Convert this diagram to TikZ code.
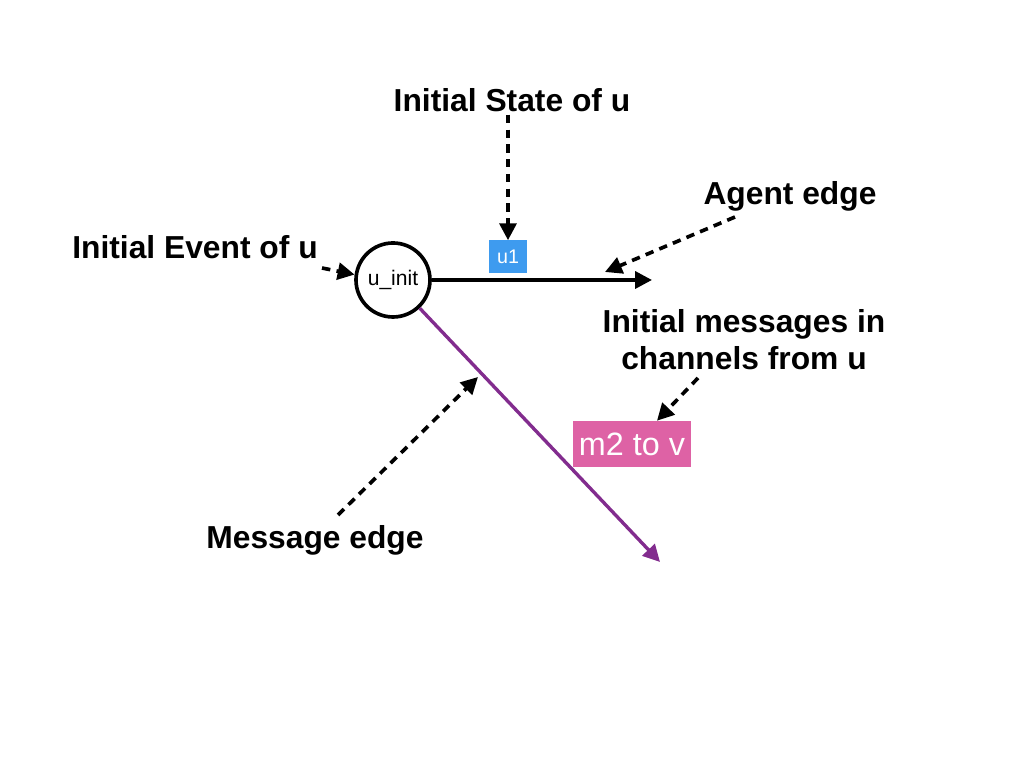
\documentclass[tikz,border=0pt]{standalone}
\usepackage{fontspec}
\setsansfont{Liberation Sans}
\usepackage{tikz}
\usetikzlibrary{positioning,arrows.meta}
\usepackage{xcolor}
\definecolor{stateblue}{RGB}{62,155,239}
\definecolor{msgpink}{RGB}{222,98,165}
\definecolor{edgepurple}{RGB}{130,44,142}
\tikzset{
	callout/.style={%
		font=\sffamily\bfseries\fontsize{22.6}{26.3}\selectfont,
		align=center, inner sep=2pt
	},
	pointer/.style={->,line width=2.6pt,dash pattern=on 6pt off 4.5pt},
	valuebox/.style={%
		fill=#1, text=white, inner sep=0pt,
		font=\sffamily
	},
	valuebox/.default=stateblue,
	>={Triangle[length=12pt,width=12pt]}
}
\begin{document}
\begin{tikzpicture}
		\useasboundingbox (0,0) rectangle (25.6,19.2);
		
		% Event node with its two edges
		\node (init) at (9.825,12.2) [draw,circle,line width=2.6pt,minimum size=1.85cm,inner sep=0pt,font=\sffamily\fontsize{15}{18}\selectfont] {u\_init};
		\coordinate (agentend) at (16.3,12.2);
		\coordinate (msgend) at (16.5,5.15);
		
		\draw[->,line width=2.6pt] (init)--(agentend);
		\draw[->,line width=2.4pt,edgepurple] (init)--(msgend);
		
		% State and message boxes
		\node[valuebox=stateblue,minimum width=0.95cm,minimum height=0.825cm,font=\sffamily\fontsize{14}{16}\selectfont] (u1) at (12.7,12.775) {u1};
		\node[valuebox=msgpink,minimum width=2.95cm,minimum height=1.15cm,font=\sffamily\fontsize{23}{26}\selectfont] (m2) at (15.8,8.1) {m2 to v};
		
		% Texts round the picture
		\node[callout] (state) at (12.8,16.7) {Initial State of u};
		\node[callout] (event) at (4.875,13.025) {Initial Event of u};
		\node[callout] (agent) at (19.75,14.3) {Agent edge};
		\node[callout] (channels) at (18.6,10.7) {Initial messages in\\channels from u};
		\node[callout] (message) at (7.875,5.7) {Message edge};
		
		\coordinate (eventtail) at (8.05,12.5);
		\coordinate (agenttail) at (18.375,13.775);
		\coordinate (agenttip) at (15.125,12.4);
		\coordinate (chantail) at (17.45,9.75);
		\coordinate (msgtail) at (8.45,6.325);
		\coordinate (msgtip) at (11.95,9.775);
		
		%dashed pointers from the texts
		\draw[pointer] (u1.north |- state.south)--(u1.north);
		\draw[pointer] (eventtail)--(init.172);
		\draw[pointer] (agenttail)--(agenttip);
		\draw[pointer] (chantail)--([xshift=0.625cm]m2.north);
		\draw[pointer] (msgtail)--(msgtip);
		
\end{tikzpicture}
\end{document}
